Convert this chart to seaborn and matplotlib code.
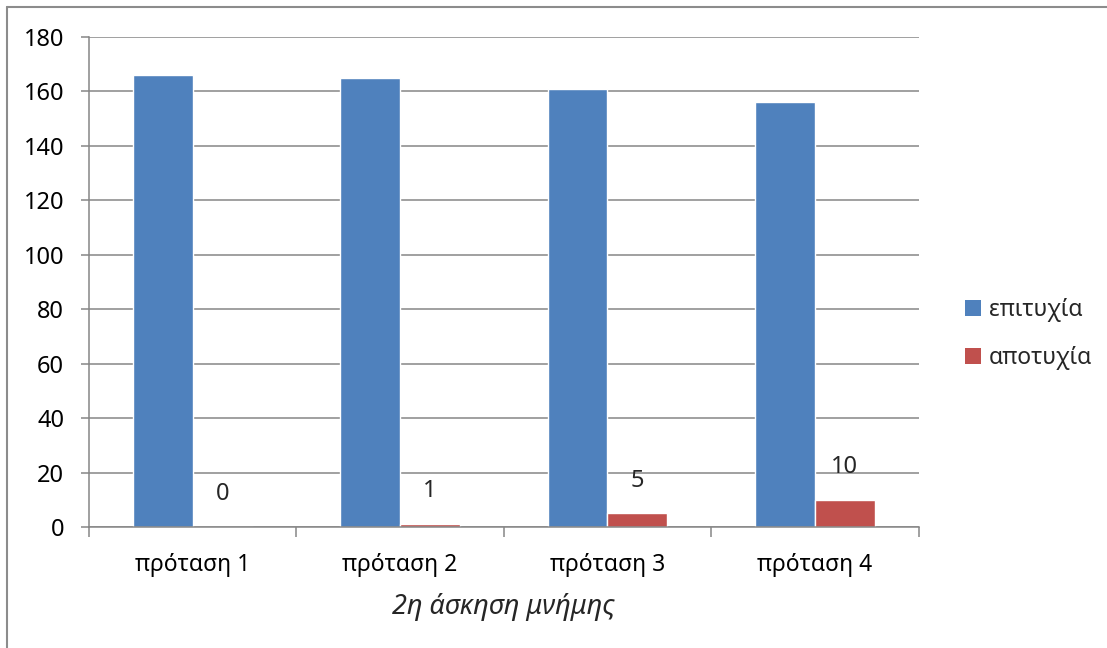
import matplotlib
matplotlib.use("Agg")
import matplotlib.pyplot as plt
from matplotlib.lines import Line2D
from matplotlib.patches import Patch
import seaborn as sns
import pandas as pd

# Data
categories = ["πρόταση 1", "πρόταση 2", "πρόταση 3", "πρόταση 4"]
success = [166, 165, 161, 156]
failure = [0, 1, 5, 10]
series_names = ["επιτυχία", "αποτυχία"]
colors = ["#4F81BD", "#C0504D"]
y_ticks = [0, 20, 40, 60, 80, 100, 120, 140, 160, 180]
x_title = "2η άσκηση μνήμης"

df = pd.DataFrame({
    "category": categories * 2,
    "value": success + failure,
    "series": [series_names[0]] * len(categories) + [series_names[1]] * len(categories),
})

sns.set_theme(style="white")
plt.rcParams["font.family"] = ["Noto Sans", "DejaVu Sans"]

grid_col = "#868686"
fig = plt.figure(figsize=(11.07, 6.48), dpi=100)
ax = fig.add_axes([0.0804, 0.1867, 0.7494, 0.7562])

sns.barplot(data=df, x="category", y="value", hue="series", palette=colors,
            width=0.578, gap=0, dodge=True, ax=ax, saturation=1, legend=False)

ax.set_xlim(-0.5, len(categories) - 0.5)
ax.set_ylim(0, 180)
ax.set_yticks(y_ticks)
ax.yaxis.grid(True, color=grid_col, linewidth=1.1)
ax.set_axisbelow(True)

for s in ["top", "right"]:
    ax.spines[s].set_visible(False)
for s in ["left", "bottom"]:
    ax.spines[s].set_color(grid_col)
    ax.spines[s].set_linewidth(1.1)

ax.tick_params(axis="y", which="major", length=6, width=1.1, color=grid_col,
               labelsize=17, pad=12, left=True, labelcolor="black")
ax.tick_params(axis="x", which="major", length=0, labelsize=16.5, pad=19, labelcolor="black")
ax.set_xticks([i - 0.5 for i in range(len(categories) + 1)], minor=True)
ax.tick_params(axis="x", which="minor", length=7, width=1.1, color=grid_col, bottom=True)

ax.set_xlabel(x_title, fontsize=19.5, style="italic", labelpad=11)
ax.set_ylabel("")

# value labels for the failure series
ax.bar_label(ax.containers[1], labels=[str(v) for v in failure], padding=15, fontsize=17)

handles = [Patch(facecolor=c, edgecolor="none") for c in colors]
fig.legend(handles, series_names, loc="center left", bbox_to_anchor=(0.853, 0.485),
           frameon=False, fontsize=16.5, handlelength=0.7, handleheight=0.7,
           handletextpad=0.35, labelspacing=1.05)

# chart-area border (top and left edges)
fig.add_artist(Line2D([7 / 1107, 1.0], [1 - 7 / 648, 1 - 7 / 648], transform=fig.transFigure,
                      color="#8c8c8c", linewidth=1.5))
fig.add_artist(Line2D([7 / 1107, 7 / 1107], [0.0, 1 - 7 / 648], transform=fig.transFigure,
                      color="#8c8c8c", linewidth=1.5))

fig.savefig("out.png", dpi=100)
